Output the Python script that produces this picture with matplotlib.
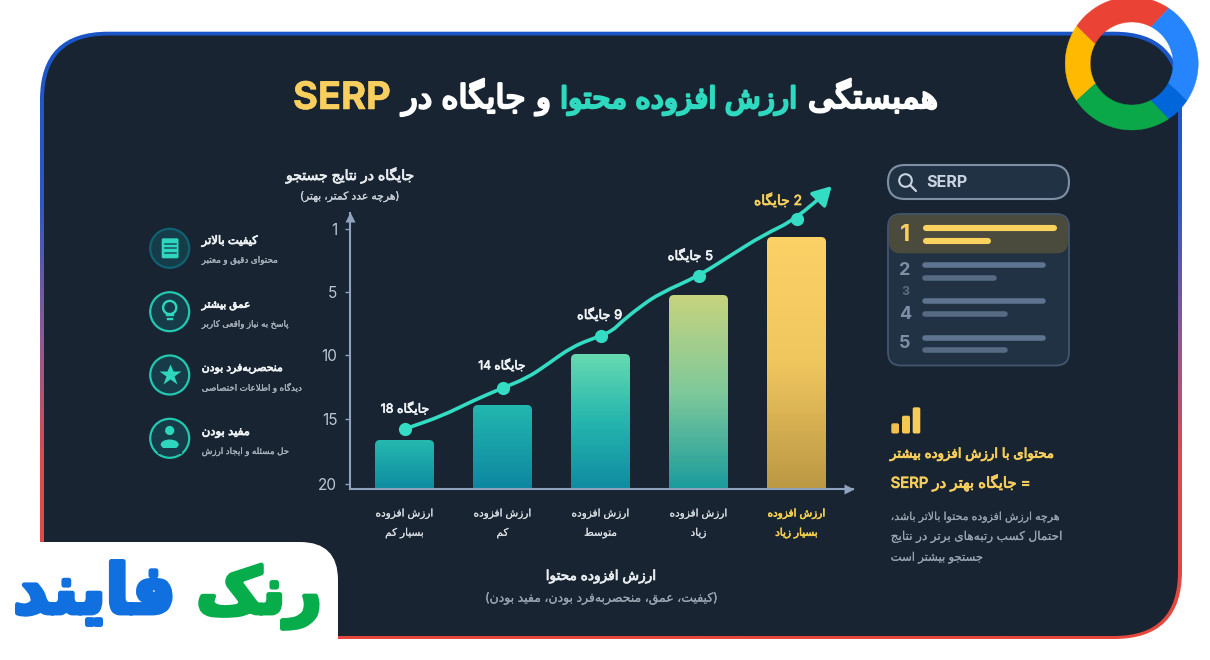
import re
import numpy as np
import matplotlib
matplotlib.use('Agg')
import matplotlib.pyplot as plt
import matplotlib.patheffects as pe
from matplotlib.colors import LinearSegmentedColormap
from matplotlib.patches import FancyBboxPatch, Circle, Polygon, Ellipse, PathPatch
from matplotlib.path import Path
from matplotlib.transforms import IdentityTransform

# ---------- data ----------
categories = [("ارزش افزوده", "بسیار کم"), ("ارزش افزوده", "کم"), ("ارزش افزوده", "متوسط"),
              ("ارزش افزوده", "زیاد"), ("ارزش افزوده", "بسیار زیاد")]
bar_tops = [16.6, 13.9, 9.9, 5.2, 1.5]
point_ranks = [15.77, 12.58, 8.49, 3.98, 0.37]
point_labels = ["جایگاه 18", "جایگاه 14", "9 جایگاه", "5 جایگاه", "2 جایگاه"]
curve_x = [0, 0.06, 0.38, 0.70, 1, 1.25, 1.45, 1.72, 2, 2.13, 2.2, 2.40, 2.61, 3, 3.32, 3.66, 4, 4.27]
curve_rank = [15.77, 15.62, 14.77, 13.57, 12.58, 11.80, 10.78, 9.29, 8.49, 8.02, 7.46, 6.19, 5.08,
              3.98, 2.71, 1.38, 0.37, -1.16]
arrow_tip = (4.36, -1.73)
rank_ticks = [1, 5, 10, 15, 20]
rank_pixels = [229, 292, 355, 419, 484]
bar_colors = [["#24b8ae", "#0e8ba0"], ["#22b6ae", "#0d86a0"], ["#66d9b0", "#24b5ad", "#0f8ba1"],
              ["#c6d27e", "#7fc99a", "#1b9b9c"], ["#fbd166", "#efc55e", "#bb9844"]]
features = [("کیفیت بالاتر", "محتوای دقیق و معتبر"), ("عمق بیشتر", "پاسخ به نیاز واقعی کاربر"),
            ("منحصربه\u200cفرد بودن", "دیدگاه و اطلاعات اختصاصی"), ("مفید بودن", "حل مسئله و ایجاد ارزش")]
TITLE = [("همبستگی", 808, 938, "#ffffff"), ("ارزش افزوده محتوا", 560, 797, "#2fd9bf"),
         ("و", 536, 551, "#ffffff"), ("جایگاه در", 402, 526, "#ffffff")]

# ---------- persian shaping (matplotlib has no shaper) ----------
DUAL = {'ب': 0xFE8F, 'ت': 0xFE95, 'ث': 0xFE99, 'ج': 0xFE9D, 'ح': 0xFEA1, 'خ': 0xFEA5, 'س': 0xFEB1,
        'ش': 0xFEB5, 'ص': 0xFEB9, 'ض': 0xFEBD, 'ط': 0xFEC1, 'ظ': 0xFEC5, 'ع': 0xFEC9, 'غ': 0xFECD,
        'ف': 0xFED1, 'ق': 0xFED5, 'ل': 0xFEDD, 'م': 0xFEE1, 'ن': 0xFEE5, 'ه': 0xFEE9, 'ئ': 0xFE89,
        'پ': 0xFB56, 'چ': 0xFB7A, 'ک': 0xFB8E, 'گ': 0xFB92, 'ی': 0xFBFC}
RIGHT = {'ا': 0xFE8D, 'آ': 0xFE81, 'د': 0xFEA9, 'ذ': 0xFEAB, 'ر': 0xFEAD, 'ز': 0xFEAF, 'ژ': 0xFB8A, 'و': 0xFEED}
MIRROR = {'(': ')', ')': '('}


def shape(text):
    out, i, prev = [], 0, False
    while i < len(text):
        c = text[i]
        nxt = text[i + 1] if i + 1 < len(text) else ''
        if c == 'ل' and nxt == 'ا':
            out.append(chr(0xFEFC if prev else 0xFEFB))
            prev = False
            i += 2
            continue
        if c in DUAL:
            j = nxt in DUAL or nxt in RIGHT
            code = DUAL[c] + (3 if prev and j else 1 if prev else 2 if j else 0)
            out.append(chr(code))
            prev = True
        elif c in RIGHT:
            out.append(chr(RIGHT[c] + (1 if prev else 0)))
            prev = False
        else:
            if c != '\u200c':
                out.append(c)
            prev = False
        i += 1
    s = ''.join(out)
    parts = re.split(r'([A-Za-z0-9]+)', s)
    vis = [p if re.fullmatch(r'[A-Za-z0-9]+', p) else ''.join(MIRROR.get(ch, ch) for ch in reversed(p)) for p in parts]
    return ''.join(reversed(vis))


plt.rcParams['font.family'] = ['Inter', 'DejaVu Sans']
plt.rcParams['text.parse_math'] = False

W, H = 1210, 660
fig = plt.figure(figsize=(12.1, 6.6), dpi=100, facecolor='white')
bg = fig.add_axes([0, 0, 1, 1], zorder=0)
bg.set_xlim(0, W)
bg.set_ylim(H, 0)
bg.axis('off')
renderer = fig.canvas.get_renderer()


def T(s, x0, x1, base, color, weight='normal', stroke=0.0, raw=False, z=10):
    """Text placed between px x0..x1 on a baseline, sized to fill this width."""
    t = bg.text(x0, base, s if raw else shape(s), color=color, fontweight=weight, fontsize=10,
                ha='left', va='baseline', zorder=z)
    w = t.get_window_extent(renderer).width
    t.set_fontsize(10 * (x1 - x0) / w)
    if stroke:
        t.set_path_effects([pe.withStroke(linewidth=stroke, foreground=color)])
    return t


def rrect(x0, y0, x1, y1, r, fc='none', ec='none', lw=0, z=2, alpha=None):
    p = FancyBboxPatch((x0, y0), x1 - x0, y1 - y0, boxstyle=f"round,pad=0,rounding_size={r}",
                       fc=fc, ec=ec, lw=lw, zorder=z, alpha=alpha)
    bg.add_patch(p)
    return p


# ---------- panel ----------
border_cmap = LinearSegmentedColormap.from_list('b', [(0, '#1a55c8'), (.28, '#2f58c4'), (.5, '#8e5a95'),
                                                      (.7, '#d94c50'), (1, '#e8473c')])
outer = rrect(40, 31.7, 1182, 639, 68, fc='none', z=1)
im = bg.imshow(np.linspace(0, 1, 256).reshape(-1, 1), extent=(40, 1182, 639, 31.7), aspect='auto',
               cmap=border_cmap, zorder=1, interpolation='bilinear')
im.set_clip_path(outer)
bg.set_xlim(0, W)
bg.set_ylim(H, 0)
rrect(44, 35.5, 1178, 636, 64, fc='#182431', z=1.5)

# ---------- google-like ring (segment joints are slanted, so outer/inner angles differ) ----------
cx, cy, ro, ri = 1131.7, 63.5, 66.5, 41.5
for oa, ob, ia, ib, col in [(56, 146, 62, 152, '#ea4335'), (146, 214, 152, 209, '#ffba00'),
                            (214, 304, 209, 298, '#0ba84a'), (326, 416, 331.6, 422, '#2684fc'),
                            (304, 326, 298, 331.6, '#0066da')]:
    to = np.radians(np.linspace(oa, ob, 60))
    ti = np.radians(np.linspace(ib, ia, 60))
    xy = np.r_[np.c_[cx + ro * np.cos(to), cy - ro * np.sin(to)], np.c_[cx + ri * np.cos(ti), cy - ri * np.sin(ti)]]
    bg.add_patch(Polygon(xy, closed=True, fc=col, ec=col, lw=0.3, zorder=6))

# ---------- brand plate ----------
rrect(-60, 542, 338, 720, 38, fc='white', z=5)
T("فایند", 13.3, 175.7, 613, '#1070e0', 'bold', stroke=3.5)
T("رنک", 196.7, 321.7, 613, '#08ad4b', 'bold', stroke=3.5)

# ---------- title ----------
for s, x0, x1, col in TITLE:
    T(s, x0, x1, 108, col, 'normal', stroke=1.7)
T("SERP", 293, 390, 109, "#f8cf5f", 'bold', raw=True, stroke=0.4)

# ---------- left features ----------
fy = [248.3, 311.7, 375, 438.3]
head_end = [258, 250.7, 283, 250]
sub_end = [278, 289, 302, 289]
head_base = [244, 307.7, 371, 435]
sub_base = [262.7, 326.7, 390.7, 454]
teal = '#2dd6bd'
for i, (h, s) in enumerate(features):
    ec = '#0f6272' if i == 0 else '#23c8b0'
    bg.add_patch(Circle((169.7, fy[i]), 19.5, fc='#163c49', ec=ec, lw=1.6, zorder=3))
    T(h, 201.7, head_end[i], head_base[i], '#eef2f5', 'normal', stroke=0.55)
    T(s, 201.7, sub_end[i], sub_base[i], '#a8b2bd', stroke=0.15)
# document icon
rrect(161.7, 238.3, 178.5, 258.3, 1.5, fc=teal, z=4)
for yy in (243.5, 248.3, 253.1):
    bg.plot([164.5, 175.7], [yy, yy], color='#16505c', lw=1.1, zorder=5)
# bulb icon
bg.add_patch(Circle((169.7, 307.5), 6.6, fc='none', ec=teal, lw=1.7, zorder=4))
bg.plot([166.8, 172.6], [315.3, 315.3], color=teal, lw=1.7, zorder=4)
bg.plot([167.6, 171.8], [318.6, 318.6], color=teal, lw=1.7, zorder=4)
# star icon
bg.plot([169.7], [374.5], marker='*', ms=16.5, color=teal, mec='none', zorder=4)
# person icon
bg.add_patch(Circle((169.7, 430.5), 4.6, fc=teal, zorder=4))
bg.add_patch(Ellipse((169.7, 444.5), 18, 10, fc=teal, zorder=4))
bg.add_patch(FancyBboxPatch((158, 447.7), 24, 6, boxstyle="square,pad=0", fc='#163c49', ec='none', zorder=4.2))

# ---------- chart ----------
ext_ranks = np.array([-3.0] + rank_ticks + [20.38])
ext_px = np.array([166.0] + rank_pixels + [489.0])


def fwd(r):
    return np.interp(r, ext_ranks, ext_px)


def inv(p):
    return np.interp(p, ext_px, ext_ranks)


ax = fig.add_axes([350 / W, 1 - 489 / H, 503 / W, 276 / H], zorder=1)
ax.patch.set_alpha(0)
ax.set_yscale('function', functions=(fwd, inv))
xpos = np.arange(len(categories))
base_rank = 20.38
bar_w = 59 / 98
bars = ax.bar(xpos, np.array([base_rank] * 5) - np.array(bar_tops), bottom=bar_tops, width=bar_w,
              color='none', zorder=2)
ax.set_xlim((350 - 404.5) / 98, (853 - 404.5) / 98)
ax.set_ylim(base_rank, inv(213.0))
for b, cols, top in zip(bars, bar_colors, bar_tops):
    cmap = LinearSegmentedColormap.from_list('g', cols)
    ys = inv(np.linspace(fwd(top), fwd(base_rank), 90))
    xs = [b.get_x(), b.get_x() + b.get_width()]
    mesh = ax.pcolormesh(xs, ys, np.linspace(0, 1, 89).reshape(-1, 1), cmap=cmap, zorder=2, shading='flat')
    (x0d, y0d), (x1d, y1d) = ax.transData.transform([(xs[0], base_rank), (xs[1], top)])
    clip = FancyBboxPatch((x0d, y0d - 10), x1d - x0d, y1d - y0d + 10, boxstyle="round,pad=0,rounding_size=5",
                          transform=IdentityTransform())
    mesh.set_clip_path(clip)
ax.set_xlim((350 - 404.5) / 98, (853 - 404.5) / 98)
ax.set_ylim(base_rank, inv(213.0))

line_col = '#33dcc2'
pts = np.c_[curve_x, curve_rank]
verts = [pts[0]]
codes = [Path.MOVETO]
for k in range(1, len(pts) - 1):
    end = (pts[k] + pts[k + 1]) / 2 if k < len(pts) - 2 else pts[k + 1]
    verts += [pts[k], end]
    codes += [Path.CURVE3, Path.CURVE3]
ax.add_patch(PathPatch(Path(verts, codes), fc='none', ec=line_col, lw=2.6, capstyle='round', joinstyle='round',
                       zorder=4, clip_on=False))
ax.annotate('', xy=arrow_tip, xytext=(curve_x[-1], curve_rank[-1]), annotation_clip=False, zorder=4,
            arrowprops=dict(arrowstyle='-|>,head_length=0.75,head_width=0.42', color=line_col, lw=2.6,
                            mutation_scale=15, shrinkA=0, shrinkB=0))
ax.plot(xpos, point_ranks, ls='none', marker='o', ms=9.5, color=line_col, mec='none', zorder=5, clip_on=False)

ax.set_xticks(xpos, ['\n'.join(shape(p) for p in c) for c in categories])
ax.set_yticks(rank_ticks, [str(v) for v in rank_ticks])
ax.minorticks_off()
axis_col = '#8fa3bf'
ax.tick_params(axis='x', length=0, pad=14)
ax.tick_params(axis='y', length=3.6, width=1.0, color=axis_col, pad=5.5, labelcolor='#bcc7d5', labelsize=11)
for lab, col, sw in zip(ax.get_xticklabels(), ['#d9dee4'] * 4 + ['#f6d04f'], [0.1] * 4 + [0.4]):
    lab.set_color(col)
    lab.set_fontsize(7.55)
    lab.set_linespacing(2.05)
    lab.set_path_effects([pe.withStroke(linewidth=sw, foreground=col)])
for side in ('top', 'right'):
    ax.spines[side].set_visible(False)
for side in ('left', 'bottom'):
    ax.spines[side].set_color(axis_col)
    ax.spines[side].set_linewidth(1.5)
ax.plot([1 - 4 / 503], [0], marker='>', ms=7, color=axis_col, mec='none', transform=ax.transAxes, clip_on=False, zorder=6)
ax.plot([0], [1 - 4 / 276], marker='^', ms=7, color=axis_col, mec='none', transform=ax.transAxes, clip_on=False, zorder=6)

# point labels
lab_pos = [(380.7, 429.3, 412.7), (478.3, 525.7, 369.3), (577, 622.5, 319), (667.7, 713.3, 260), (754, 802.3, 205)]
for s, (a, b_, y), col in zip(point_labels, lab_pos, ['#eef2f5'] * 4 + ['#f7cf5c']):
    T(s, a, b_, y, col, 'normal', stroke=0.5)

# axis titles
T("جایگاه در نتایج جستجو", 286, 415, 180, '#e8ecf0', 'normal', stroke=0.55)
T("(هرچه عدد کمتر، بهتر)", 300, 400, 199.5, '#c8d0da', stroke=0.15)
T("ارزش افزوده محتوا", 545.7, 656, 580, '#e8ecf0', 'normal', stroke=0.55)
T("(کیفیت، عمق، منحصربه\u200cفرد بودن، مفید بودن)", 485, 718.3, 601.7, '#9aa5b2', stroke=0.1)

# ---------- search box ----------
rrect(888, 165, 1069, 199, 17, fc='#213245', ec='#7f90a5', lw=1.5, z=3)
bg.add_patch(Circle((905.5, 180.5), 6.3, fc='none', ec='#c9d3df', lw=1.5, zorder=4))
bg.plot([910.2, 916], [185.2, 191], color='#c9d3df', lw=1.6, zorder=4, solid_capstyle='round')
T("SERP", 926.7, 967.7, 187.3, '#c9d3df', 'bold', raw=True)

# ---------- results card ----------
rrect(888, 214, 1069, 365.5, 13, fc='#213245', ec='#44566c', lw=1.3, z=3)
rrect(889, 215, 1068, 253.3, 11, fc='#4b4b3d', z=3.2)
rows = [("2", 270.7, 13, '#7f8fa5', 265.3, 1045.7, 278, 996.7),
        ("3", 292.3, 9, '#5b6a7e', 301.3, 1045.7, 314, 1008),
        ("4", 314.3, 13, '#7f8fa5', None, None, None, None),
        ("5", 343.5, 13, '#7f8fa5', 337.7, 1045.7, 350.3, 1007.7)]
bg.text(905, 235, "1", color='#f8cf5f', fontsize=17, fontweight='bold', ha='center', va='center', zorder=5)
bg.plot([925.5, 1054], [228.3, 228.3], color='#fad25e', lw=4.4, solid_capstyle='round', zorder=5)
bg.plot([925.5, 988], [241.3, 241.3], color='#fad25e', lw=4.4, solid_capstyle='round', zorder=5)
for n, y, fs, col, y1, x1, y2, x2 in rows:
    bg.text(905, y, n, color=col, fontsize=fs, fontweight='bold', ha='center', va='center', zorder=5)
    if y1 is not None:
        bg.plot([925, x1 - 3], [y1, y1], color='#5f7490', lw=4, solid_capstyle='round', zorder=5)
        bg.plot([925, x2 - 3], [y2, y2], color='#566a84', lw=4, solid_capstyle='round', zorder=5)

# ---------- takeaway ----------
yellow = '#f7cf5c'
for x0, x1, y0, c in [(891.3, 899, 423.3, '#f4c04c'), (902, 910, 415.7, '#f5c650'), (912.7, 920.3, 407.3, '#f7cc58')]:
    rrect(x0, y0, x1, 433.5, 1.8, fc=c, z=4)
T("محتوای با ارزش افزوده بیشتر", 890, 1054.3, 457.7, yellow, 'normal', stroke=0.6)
T("= جایگاه بهتر در SERP", 890.7, 1031, 487.7, yellow, 'normal', stroke=0.6)
T("هرچه ارزش افزوده محتوا بالاتر باشد،", 890.7, 1060, 520, '#98a3b0', stroke=0.1)
T("احتمال کسب رتبه\u200cهای برتر در نتایج", 890.7, 1063.3, 540, '#98a3b0', stroke=0.1)
T("جستجو بیشتر است", 890.7, 983.3, 560.7, '#98a3b0', stroke=0.1)

fig.savefig('out.png', dpi=100, facecolor='white')
